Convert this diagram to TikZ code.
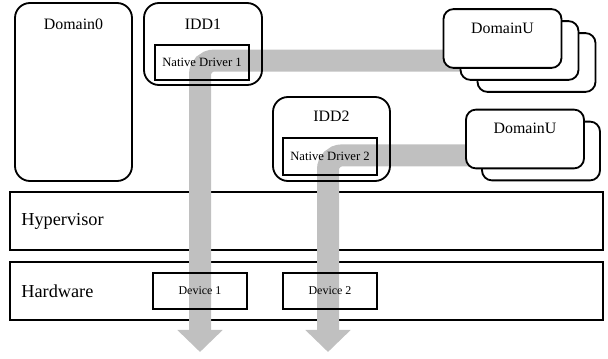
\documentclass[tikz,border=0pt]{standalone}
\usepackage{fontspec}
\setmainfont{Liberation Serif}
\usetikzlibrary{arrows.meta}
\definecolor{flowgray}{RGB}{192,192,192}

\begin{document}
\begin{tikzpicture}

        \useasboundingbox (0,0) rectangle (15.2,8.975);

        % layers under the flows
        \begin{scope}[every node/.style={draw,line width=1.3pt,minimum width=14.825cm,minimum height=1.45cm}]
          \node (hyp) at (7.6625,3.45) {};
          \node (hw)  at (7.6625,1.7)  {};
        \end{scope}

        \begin{scope}[every node/.style={anchor=west,inner sep=0pt,font=\fontsize{13}{15}\selectfont}]
          \node (hyptext) at ([xshift=0.3cm]hyp.west) {Hypervisor};
          \node (hwtext)  at ([xshift=0.3cm]hw.west)  {Hardware};
        \end{scope}

        % flows
        \coordinate (s1) at (12,7.46);
        \coordinate (t1) at (5,0.175);
        \coordinate (s2) at (12.2,5.09);
        \coordinate (t2) at (8.2,0.175);

        \begin{scope}[flow/.style={draw=flowgray,line width=0.55cm,rounded corners=0.35cm,-{Triangle[width=1.1cm,length=0.55cm]}}]
          \path[flow] (s1) -| (t1);
          \path[flow] (s2) -| (t2);
        \end{scope}

        % domains
        \begin{scope}[every node/.style={draw,line width=1.3pt,rounded corners=0.375cm}]
          \node[minimum width=2.925cm,minimum height=4.45cm] (dom0) at (1.8375,6.675) {};
          \node[minimum width=2.95cm,minimum height=2.05cm]  (idd1) at (5.075,7.875)  {};
          \node[minimum width=2.925cm,minimum height=2.1cm]  (idd2) at (8.2875,5.5)   {};
        \end{scope}

        \begin{scope}[every node/.style={draw,fill=white,line width=1.3pt,rounded corners=0.25cm,minimum width=2.95cm,minimum height=1.47cm}]
          \node (du13) at (13.4125,7.4125) {};
          \node (du12) at (12.9875,7.7125) {};
          \node (du11) at (12.5625,8.0125) {};
          \node (du22) at (13.525,5.2) {};
          \node (du21) at (13.125,5.5) {};
        \end{scope}

        \begin{scope}[every node/.style={font=\fontsize{11.3}{13}\selectfont}]
          \node (dom0text) at ([yshift=-0.55cm]dom0.north) {Domain0};
          \node (idd1text) at ([yshift=-0.55cm]idd1.north) {IDD1};
          \node (idd2text) at ([yshift=-0.5cm]idd2.north)  {IDD2};
          \node (du11text) at ([yshift=-0.5cm]du11.north)  {DomainU};
          \node (du21text) at ([yshift=-0.5cm]du21.north)  {DomainU};
        \end{scope}

        % drivers and devices
        \begin{scope}[every node/.style={draw,line width=1.3pt,minimum width=2.35cm}]
          \node[minimum height=0.875cm,font=\fontsize{9}{11}\selectfont] (nd1) at (5.05,7.4125) {Native Driver 1};
          \node[minimum height=0.925cm,font=\fontsize{9}{11}\selectfont] (nd2) at (8.25,5.0625) {Native Driver 2};
          \node[minimum height=0.9cm,font=\fontsize{8.5}{10}\selectfont]  (dev1) at (5,1.7)    {Device 1};
          \node[minimum height=0.9cm,font=\fontsize{8.5}{10}\selectfont]  (dev2) at (8.25,1.7) {Device 2};
        \end{scope}

      \end{tikzpicture}
\end{document}
